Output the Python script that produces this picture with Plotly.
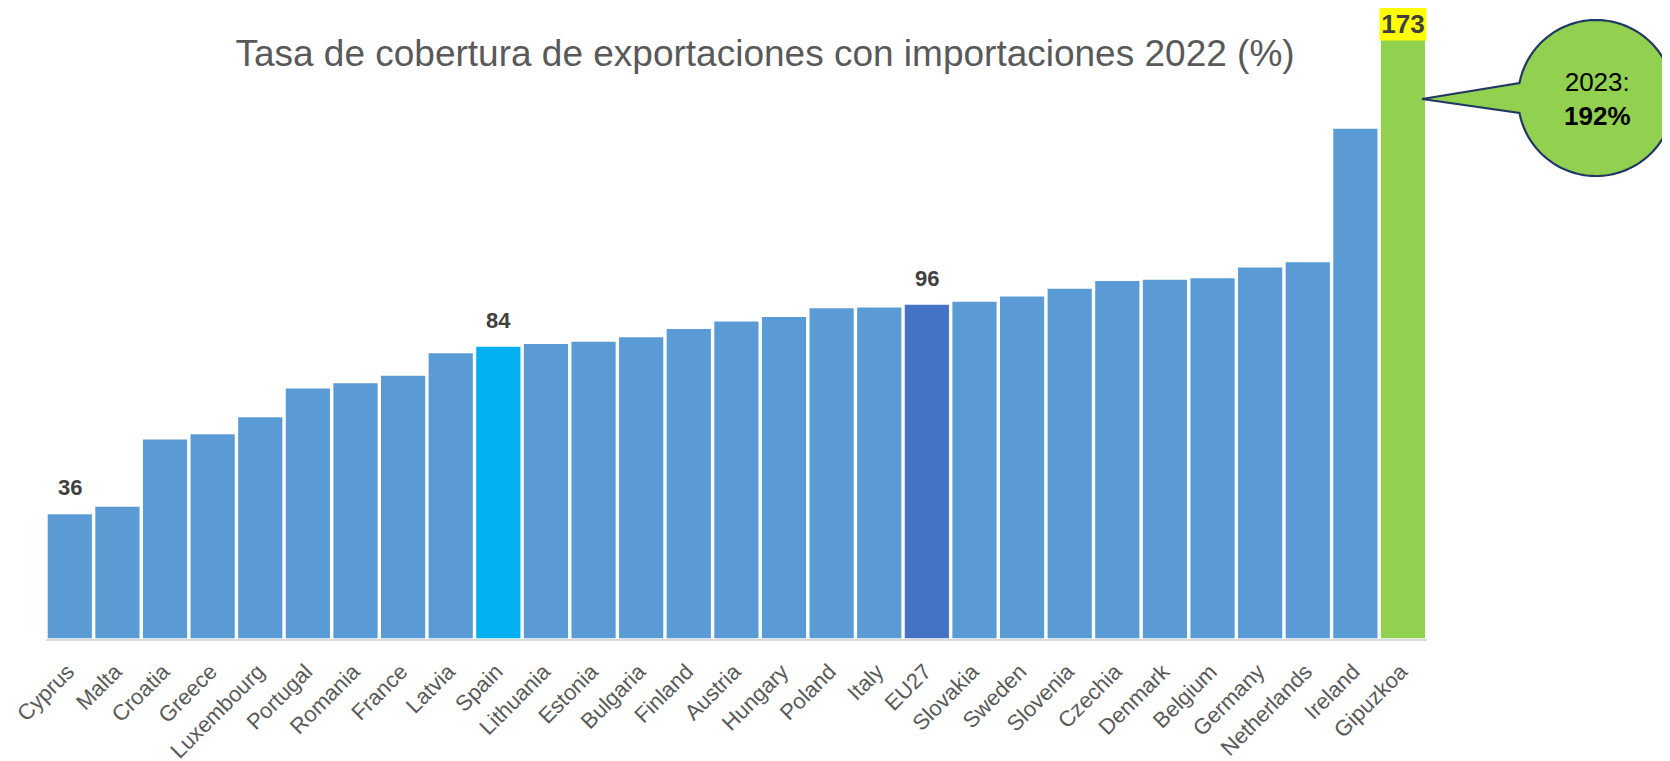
import math
import plotly.graph_objects as go

countries = ["Cyprus", "Malta", "Croatia", "Greece", "Luxembourg", "Portugal", "Romania",
             "France", "Latvia", "Spain", "Lithuania", "Estonia", "Bulgaria", "Finland",
             "Austria", "Hungary", "Poland", "Italy", "EU27", "Slovakia", "Sweden",
             "Slovenia", "Czechia", "Denmark", "Belgium", "Germany", "Netherlands",
             "Ireland", "Gipuzkoa"]
coverage_2022 = [36, 38.1, 57.4, 58.9, 63.8, 72.0, 73.5, 75.7, 82.1, 84, 84.8, 85.4, 86.7,
                 89.1, 91.2, 92.5, 95.0, 95.2, 96, 96.9, 98.4, 100.6, 102.8, 103.2, 103.6,
                 106.7, 108.2, 146.5, 173]
labelled = {"Cyprus": "36", "Spain": "84", "EU27": "96"}
gipuzkoa_2023 = "192%"

BASE = "#5b9bd5"
special = {"Spain": "#00b0f0", "EU27": "#4472c4", "Gipuzkoa": "#92d050"}
colors = [special.get(c, BASE) for c in countries]

# page body adds an 8px offset, so the figure is drawn 8px smaller
OFF = 8
W, H = 1670 - OFF, 761 - OFF
ML, MR, MT, MB = 46 - OFF, 243, 11 - OFF, 122
PW, PH = W - ML - MR, H - MT - MB
YMAX = 180


def px_to_paper(px, py):
    # px, py in window pixels
    return (px - OFF - ML) / PW, (H - MB - (py - OFF)) / PH


fig = go.Figure()
fig.add_trace(go.Bar(x=countries, y=coverage_2022, marker_color=colors,
                     marker_line_color="white", marker_line_width=1.5,
                     hoverinfo="x+y"))

font = "Liberation Sans, Arial, sans-serif"

# data labels
for c, v in zip(countries, coverage_2022):
    if c in labelled:
        fig.add_annotation(x=c, y=v, text="<b>%s</b>" % labelled[c], showarrow=False,
                           yanchor="bottom", yshift=11,
                           font=dict(family=font, size=22, color="#404040"))
fig.add_annotation(x=countries[-1], y=coverage_2022[-1], text="<b>%d</b>" % coverage_2022[-1],
                   showarrow=False, yanchor="middle", yshift=12,
                   bgcolor="#ffff00", width=44, height=31,
                   font=dict(family=font, size=26, color="#404040"))

# callout bubble
cx, cy, r = 1596, 98, 78
tip = (1422, 99)
a0, a1 = math.radians(191), math.radians(529)
pts = [tip]
n = 140
for i in range(n + 1):
    a = a0 + (a1 - a0) * i / n
    pts.append((cx + r * math.cos(a), cy + r * math.sin(a)))
path = ""
for i, (px, py) in enumerate(pts):
    x, y = px_to_paper(px, py)
    path += ("M" if i == 0 else "L") + "%.5f,%.5f" % (x, y)
path += "Z"
fig.add_shape(type="path", path=path, xref="paper", yref="paper",
              fillcolor="#92d050", line=dict(color="#203864", width=2.2), layer="above")
tx, ty = px_to_paper(cx + 1, cy + 1)
fig.add_annotation(x=tx, y=ty, xref="paper", yref="paper",
                   text="2023:<br><b>%s</b>" % gipuzkoa_2023, showarrow=False,
                   xanchor="center", yanchor="middle",
                   font=dict(family=font, size=26, color="black"))

fig.update_layout(
    width=W, height=H,
    margin=dict(l=ML, r=MR, t=MT, b=MB, autoexpand=False),
    paper_bgcolor="white", plot_bgcolor="white",
    bargap=0.04, showlegend=False,
    title=dict(text="Tasa de cobertura de exportaciones con importaciones 2022 (%)",
               x=(765 - OFF) / W, y=1 - (53 - OFF) / H, xanchor="center", yanchor="middle",
               font=dict(family=font, size=37, color="#595959")),
    font=dict(family=font),
)
fig.update_xaxes(showline=True, linecolor="#d9d9d9", linewidth=2, showgrid=False,
                 tickangle=-45, ticks="outside", ticklen=9, tickcolor="rgba(0,0,0,0)",
                 ticklabelshift=-2,
                 tickfont=dict(family=font, size=22, color="#595959"))
fig.update_yaxes(range=[0, YMAX], visible=False, showgrid=False)

fig.write_html("out.html")
